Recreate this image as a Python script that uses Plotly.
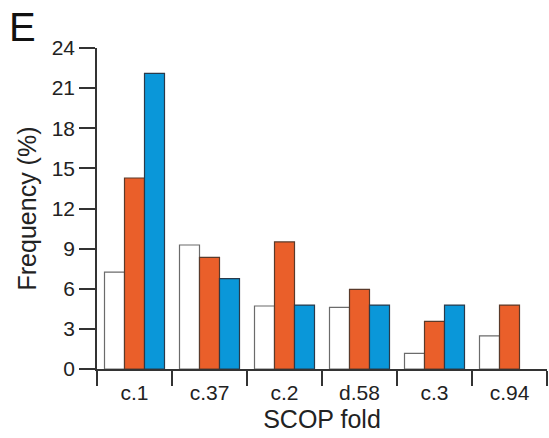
import plotly.graph_objects as go

categories = ["c.1", "c.37", "c.2", "d.58", "c.3", "c.94"]
series_white = [7.25, 9.27, 4.71, 4.61, 1.17, 2.47]
series_orange = [14.28, 8.35, 9.5, 5.96, 3.56, 4.78]
series_blue = [22.1, 6.75, 4.78, 4.78, 4.78, None]
y_ticks = [0, 3, 6, 9, 12, 15, 18, 21, 24]

FONT = "Liberation Sans, Arial, sans-serif"

fig = go.Figure()
fig.add_bar(x=categories, y=series_white, marker=dict(color="white", line=dict(color="#6b6b6b", width=1.2)))
fig.add_bar(x=categories, y=series_orange, marker=dict(color="#EA5F2A", line=dict(color="#5a3a2a", width=1.2)))
fig.add_bar(x=categories, y=series_blue, marker=dict(color="#0A97D9", line=dict(color="#2a3a4a", width=1.2)))

fig.update_layout(
    width=549, height=438,
    margin=dict(l=97, r=2, t=48, b=69),
    paper_bgcolor="white", plot_bgcolor="white",
    barmode="group", bargap=0.2, bargroupgap=0,
    showlegend=False,
    font=dict(family=FONT, color="#222"),
)
fig.update_xaxes(
    range=[-0.5, 5.5], showline=True, linecolor="#333", linewidth=1.5,
    ticks="outside", tickson="boundaries", ticklen=15, tickwidth=1.5, tickcolor="#333",
    ticklabelstandoff=4,
    tickfont=dict(size=21, family=FONT, color="#222"),
    title=dict(text="SCOP fold", font=dict(size=25, family=FONT, color="#222"), standoff=8),
    showgrid=False, zeroline=False,
)
fig.update_yaxes(
    range=[0, 24], tickvals=y_ticks, showline=True, linecolor="#333", linewidth=1.5,
    ticks="outside", ticklen=16, tickwidth=1.5, tickcolor="#333",
    tickfont=dict(size=21, family=FONT, color="#222"),
    title=dict(text="Frequency (%)", font=dict(size=25, family=FONT, color="#222"), standoff=8),
    showgrid=False, zeroline=False,
)
fig.add_annotation(
    text="E", xref="paper", yref="paper", x=-0.2, y=1.064,
    xanchor="left", yanchor="middle", showarrow=False,
    font=dict(size=40, family=FONT, color="#111"),
)
fig.write_html("out.html")
